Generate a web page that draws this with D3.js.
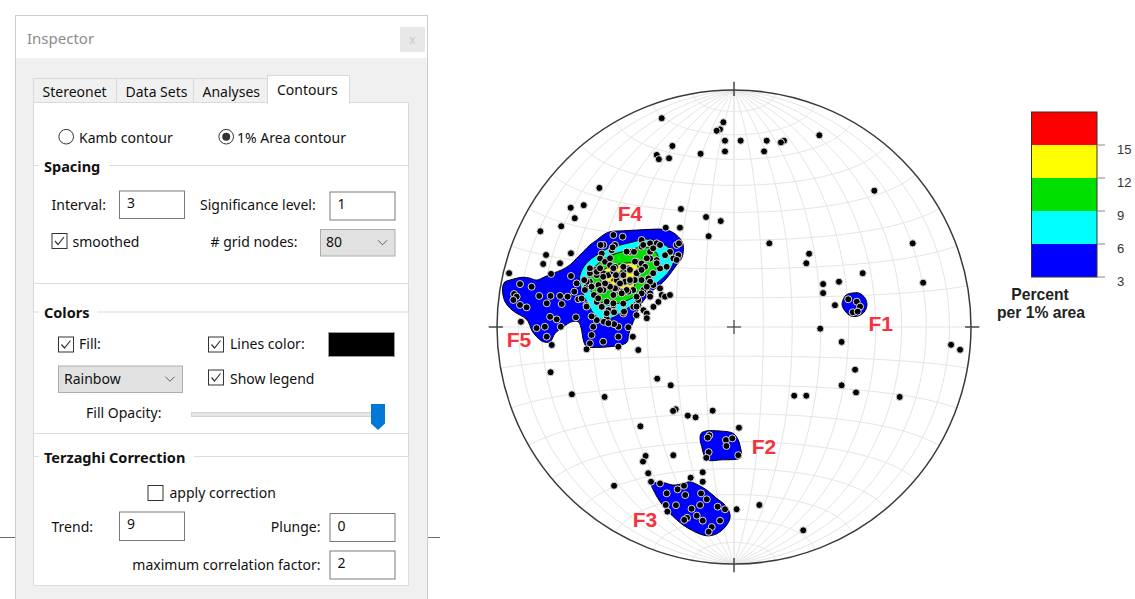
<!DOCTYPE html>
<html><head><meta charset="utf-8">
<script src="https://cdn.jsdelivr.net/npm/d3@7"></script>
<style>
html,body{margin:0;padding:0;background:#fff;}
svg{display:block;}
</style></head><body>
<svg id="root" width="1135" height="599"></svg>
<script>
// ---- contour levels (percent per 1% area) ----
const levels = [3, 6, 9, 12, 15];
const levelColors = ["#0000ff", "#00ffff", "#00e000", "#ffff00", "#ff0000"];
const legendTickLabels = ["3", "6", "9", "12", "15"];

// ---- poles, equal-area projected coordinates (net radius = 100, x east, y north) ----
const polesScattered = [
  [-30.5,88.1],[-4.5,86.4],[-5.9,83.4],[-7.3,82.8],[-3.8,78.6],[2.8,78.6],[13.8,78.6],[21.1,78.6],[19.8,77.9],[36.0,80.9],
  [-26.0,76.4],[-32.6,72.6],[-31.7,70.8],[-27.4,71.2],[-14.1,73.1],[-3.8,74.1],[12.7,74.1],[59.2,57.5],[-56.8,58.7],[-22.4,49.8],
  [-68.9,50.3],[-63.4,51.4],[-67.2,45.9],[-11.8,46.4],[-5.6,44.7],[-81.7,40.4],[-72.9,42.5],[-28.8,41.9],[-22.8,41.9],[-10.7,38.3],
  [14.9,35.3],[75.4,35.3],[31.7,30.9],[30.5,26.9],[54.3,22.7],[79.8,18.7],[37.6,18.1],[37.6,14.3],[44.3,19.1],[42.6,9.2],
  [36.4,-0.7],[45.4,-6.3],[91.6,-7.5],[95.4,-9.6],[51.1,-18.0],[45.4,-24.6],[51.5,-27.6],[25.4,-29.0],[30.5,-29.0],[69.9,-29.5],
  [-77.4,-19.1],[-32.4,-21.8],[-26.7,-24.6],[-68.4,-28.4],[-54.6,-29.5],[-24.6,-34.7],[-25.7,-35.4],[-19.5,-37.4],[-16.2,-38.1],[-9.0,-35.3],
  [-39.5,-41.9],[2.1,-42.5],[-25.6,-54.1],[-37.3,-54.4],[-38.4,-56.8],[-36.2,-61.7],[-35.0,-65.3],[-50.6,-67.0],[-18.3,-63.6],[-13.2,-61.3],
  [-13.2,-65.3],[1.1,-76.9],[10.7,-75.1],[29.2,-85.8]
];
const polesF1 = [[48.2,11.7],[51.8,10.7],[53.2,8.6],[50.1,6.2],[52.2,6.5]];
const polesF2 = [[-10.4,-45.7],[-11.1,-46.7],[-3.4,-47.7],[-3.2,-50.2],[-10.7,-52.8],[-11.7,-55.2],[1.8,-54.1],[-0.7,-47.0]];
const polesF3 = [
  [-31.2,-66.0],[-28.4,-70.2],[-23.8,-68.5],[-21.1,-67.0],[-28.8,-75.1],[-28.1,-77.9],[-24.5,-75.2],[-13.9,-70.2],[-11.5,-72.7],[-14.3,-75.1],
  [-17.9,-76.7],[-15.7,-79.6],[-19.8,-80.5],[-21.0,-81.4],[-6.9,-75.8],[-3.8,-76.9],[-5.9,-81.7],[-9.4,-84.4],[-10.7,-86.4],[-13.2,-81.7],[-20.6,-70.9]
];
const polesF5 = [
  [-68.8,31.1],[-79.3,30.4],[-80.5,26.6],[-73.4,26.9],[-94.9,22.7],
  [-90.3,18.1],[-92.8,13.9],[-91.7,12.8],[-93.1,11.4],[-90.3,9.3],[-87.5,8.3],[-85.4,17.0],[-82.2,13.1],[-77.4,13.1],[-73.4,13.1],
  [-70.2,12.8],[-67.4,14.9],[-68.8,21.5],[-77.6,4.3],[-74.8,3.2],[-83.3,-0.5],[-79.8,0.1],[-79.0,-4.1],[-76.9,-7.6],[-66.7,4.1],
  [-73.1,0.1],[-89.9,2.2],[-77.2,22.4],[-72.7,9.7],[-79.0,10.0],[-66.4,18.4],[-65.7,11.7]
];
const polesF4 = [
  [-50.9,38.8],[-47.0,38.1],[-39.0,36.7],[-35.4,35.3],[-32.6,35.3],[-39.0,33.9],[-55.1,34.6],[-55.8,31.0],[-51.6,32.4],[-50.2,34.6],
  [-43.9,31.7],[-42.2,31.7],[-35.4,31.7],[-31.2,34.6],[-27.0,31.7],[-24.2,34.6],[-23.5,30.3],[-25.6,28.9],[-29.1,30.3],[-56.5,28.9],
  [-54.4,27.5],[-52.3,26.1],[-50.2,25.4],[-46.7,25.4],[-44.6,24.7],[-41.1,27.5],[-39.0,26.8],[-35.4,28.9],[-32.6,28.2],[-40.4,23.3],
  [-37.5,25.4],[-31.2,24.7],[-28.4,25.4],[-58.6,24.0],[-57.9,21.9],[-55.1,22.6],[-53.0,21.9],[-50.9,23.3],[-48.1,21.9],[-46.7,23.3],
  [-49.5,19.8],[-46.0,19.1],[-43.9,19.1],[-41.8,19.8],[-39.0,19.8],[-36.1,20.5],[-34.0,17.7],[-31.2,16.3],[-30.5,13.5],[-35.4,14.2],
  [-38.2,15.6],[-42.5,15.6],[-44.6,14.9],[-47.4,14.9],[-50.9,13.5],[-49.5,16.3],[-53.0,17.7],[-55.1,15.6],[-57.2,17.7],[-60.8,19.1],
  [-62.2,17.0],[-62.9,15.6],[-64.3,12.0],[-62.2,9.2],[-57.9,10.6],[-55.8,8.5],[-53.0,7.1],[-50.9,9.2],[-46.7,9.9],[-46.7,5.7],
  [-42.5,8.5],[-40.4,9.2],[-38.2,7.1],[-34.0,8.5],[-31.9,10.6],[-29.1,12.8],[-27.0,13.5],[-53.7,3.6],[-41.1,5.0],[-36.8,5.7],
  [-57.9,2.9],[-60.8,22.7],[-56.3,34.6],[-62.2,8.6],[-59.1,13.5],[-54.9,2.2],[-60.1,4.5],
  [-59.4,0.1],[-60.1,-3.4],[-60.8,-6.9],[-55.2,-6.2],[-48.8,-4.1],[-44.6,-0.1],[-48.8,0.1],[-42.7,-4.1],[-40.4,-9.7],[-62.2,-9.4],
  [-48.8,-8.3],[-50.6,1.2],
  [-62.2,19.1],[-57.9,23.3],[-60.1,17.0],[-57.3,12.1],[-53.7,10.7],[-50.9,10.0],[-53.7,5.8],[-50.6,6.2],[-53.0,1.6],[-41.1,8.6],
  [-40.4,11.4],[-36.8,3.7],[-46.4,6.5],[-35.4,12.8],[-51.2,33.6],[-52.3,29.0],[-45.3,31.8],[-38.3,34.6],[-34.1,33.2],[-23.2,35.3],
  [-24.2,28.3],[-36.8,29.0],[-32.6,26.9],[-34.1,22.7],[-35.4,19.1],[-36.8,17.0],[-39.0,14.2],[-41.1,12.8],[-45.3,15.6],[-47.4,14.2],
  [-43.9,19.8],[-46.7,21.9],[-48.1,18.4],[-50.2,16.3],[-52.3,17.0],[-54.4,18.4],[-55.2,21.2],[-50.9,24.8],[-46.7,25.4],[-43.9,24.1],
  [-41.1,22.7],[-39.0,24.1],[-41.8,27.6],[-49.8,21.9],[-56.5,24.8],[-56.5,15.6],[-60.8,24.8],[-63.2,19.8]
];

// ---- density contours (same projected coordinates) ----
const contour3 = [
  [[-96.6,19.1],[-94.5,19.8],[-91.7,20.6],[-88.9,21.0],[-86.1,20.6],[-83.3,19.8],[-79.8,21.2],[-76.3,22.7],[-72.7,24.1],[-69.2,26.2],
   [-66.4,29.0],[-63.6,31.8],[-60.8,34.6],[-57.9,36.7],[-55.2,38.8],[-52.3,40.2],[-46.7,40.6],[-41.1,40.9],[-35.4,41.2],[-29.8,41.2],
   [-26.3,40.2],[-23.5,38.1],[-21.6,35.3],[-21.4,31.8],[-22.1,29.0],[-24.2,26.2],[-26.3,23.3],[-28.4,20.6],[-31.2,17.7],[-34.1,15.6],
   [-36.8,12.8],[-39.0,10.0],[-41.1,5.8],[-42.5,2.2],[-43.9,-1.3],[-44.6,-4.1],[-45.0,-6.2],[-47.4,-7.6],[-52.3,-8.3],[-57.9,-8.6],
   [-62.2,-8.3],[-63.6,-5.5],[-64.3,-1.3],[-65.7,2.2],[-68.5,2.2],[-72.0,0.1],[-75.5,-2.7],[-77.6,-6.2],[-80.5,-6.2],[-83.3,-4.1],
   [-85.4,-1.3],[-86.8,2.2],[-88.9,4.3],[-91.7,5.8],[-94.5,7.9],[-96.6,10.7],[-97.6,14.2],[-97.4,17.7]],
  [[46.0,11.4],[47.3,13.5],[49.8,14.3],[52.8,14.3],[55.3,12.2],[56.1,9.3],[54.9,6.3],[52.3,4.6],[49.4,4.6],[46.8,6.8],[45.6,9.3]],
  [[-13.9,-44.9],[-11.8,-43.9],[-5.9,-43.9],[-0.3,-44.9],[1.8,-47.7],[2.8,-51.2],[3.2,-54.0],[2.5,-55.4],[-5.9,-56.1],[-9.4,-56.4],
   [-11.3,-56.1],[-12.7,-54.0],[-13.6,-50.5],[-14.3,-47.7]],
  [[-34.7,-66.3],[-29.8,-65.7],[-25.6,-66.7],[-21.4,-66.0],[-18.6,-65.3],[-15.1,-66.7],[-11.5,-68.8],[-7.3,-72.3],[-3.8,-75.1],[-2.0,-77.9],
   [-1.7,-80.7],[-3.1,-83.6],[-5.9,-86.4],[-8.7,-87.8],[-11.5,-88.1],[-14.3,-87.4],[-17.9,-85.7],[-21.4,-83.6],[-24.9,-80.7],[-28.4,-77.2],
   [-31.2,-73.7],[-33.3,-70.2]]
];
const contour6 = [
  [[-65.0,21.9],[-62.2,27.0],[-57.9,30.4],[-53.7,32.9],[-48.1,34.6],[-42.6,35.9],[-37.6,37.1],[-32.9,36.3],[-29.1,34.6],[-26.2,32.1],
   [-25.3,28.3],[-27.0,24.1],[-30.4,20.3],[-34.6,16.9],[-38.8,13.1],[-43.0,9.3],[-47.3,6.3],[-51.5,3.8],[-55.3,3.0],[-58.7,5.1],
   [-61.2,8.9],[-63.3,13.1],[-64.8,17.3]]
];
const contour9 = [
  [[-60.8,22.7],[-57.9,26.2],[-54.4,29.0],[-49.5,31.1],[-43.9,32.5],[-39.7,33.6],[-35.4,33.2],[-32.6,31.1],[-31.9,27.6],[-33.3,23.3],
   [-35.4,19.8],[-38.3,16.3],[-41.1,13.5],[-44.6,11.4],[-48.8,10.0],[-53.0,9.3],[-56.5,10.7],[-59.4,13.5],[-60.8,17.0]]
];
const contour12 = [
  [[-55.8,23.3],[-53.0,25.2],[-48.1,26.6],[-43.9,27.1],[-41.1,26.6],[-40.4,23.3],[-41.4,19.1],[-43.2,15.6],[-46.7,14.2],[-50.9,14.9],
   [-54.4,17.0],[-56.5,20.6]]
];
const contour15 = [
  [[-51.9,19.8],[-50.2,20.9],[-47.7,21.7],[-47.5,21.3],[-49.8,20.3],[-51.7,19.4]]
];

// ---- family labels and their anchors ----
const familyNames = ["F1", "F2", "F3", "F4", "F5"];
const familyAnchors = [[56.7,-1.6],[7.5,-53.6],[-42.7,-84.3],[-49.1,44.9],[-95.9,-8.3]];

// ================================================================
const svg = d3.select("#root");
svg.append("rect").attr("width",1135).attr("height",599).attr("fill","#fff");

// ---------------- Inspector panel ----------------
const UI_FONT = "'Noto Sans', 'Open Sans', sans-serif";
const ui = svg.append("g").attr("font-family", UI_FONT);
const TXT = "#111";

function label(x, y, s, o = {}) {
  return ui.append("text").attr("x", x).attr("y", y).text(s)
    .attr("font-size", o.size || 14).attr("fill", o.fill || TXT)
    .attr("font-weight", o.bold ? 700 : 400)
    .attr("text-anchor", o.anchor || "start");
}
function box(x, y, w, h, fill, stroke, sw = 1) {
  return ui.append("rect").attr("x", x).attr("y", y).attr("width", w).attr("height", h)
    .attr("fill", fill).attr("stroke", stroke || "none").attr("stroke-width", sw);
}
function checkbox(x, y, checked) {
  box(x + 0.5, y + 0.5, 15, 15, "#fff", "#333");
  if (checked) ui.append("path").attr("d", `M${x+3.5},${y+8} L${x+6.5},${y+11.5} L${x+12.5},${y+4}`)
    .attr("fill", "none").attr("stroke", "#333").attr("stroke-width", 1.2);
}
function radio(cx, cy, on) {
  ui.append("circle").attr("cx", cx).attr("cy", cy).attr("r", 7.3).attr("fill", "#fff").attr("stroke", "#333");
  if (on) ui.append("circle").attr("cx", cx).attr("cy", cy).attr("r", 4).attr("fill", "#333");
}
function input(x, y, w, h, v) {
  box(x + 0.5, y + 0.5, w, h, "#fff", "#7a7a7a");
  label(x + 8, y + 17.5, v);
}
function dropdown(x, y, w, h, v) {
  box(x + 0.5, y + 0.5, w, h, "#e1e1e1", "#adadad");
  label(x + 6, y + 18, v);
  const cx = x + w - 12, cy = y + h / 2;
  ui.append("path").attr("d", `M${cx-4.5},${cy-2} L${cx},${cy+2.5} L${cx+4.5},${cy-2}`)
    .attr("fill", "none").attr("stroke", "#606060").attr("stroke-width", 1);
}
function groupHeader(x1, x2, y, bottom, title, tw) {
  box(x1 + 0.5, y + 0.5, x2 - x1, bottom - y, "#fff", "#dcdcdc");
  box(x1 + 6, y - 4, tw, 10, "#fff");
  label(x1 + 11, y + 6.5, title, { bold: true, size: 14.5 });
}

// background window edge behind the panel
ui.append("line").attr("x1", 0).attr("x2", 440).attr("y1", 537.5).attr("y2", 537.5).attr("stroke", "#6b6b6b").attr("stroke-width", 1.2);

// panel body and title bar
box(15.5, 15.5, 412, 600, "#f0f0f0", "#cdcdcd");
box(16, 16, 411, 42, "#fff");
label(27, 44, "Inspector", { size: 15, fill: "#8c8c8c" });
box(400, 27, 25, 25, "#e8e8e8");
label(412.5, 44, "x", { size: 12, fill: "#c8c8c8", anchor: "middle" });

// tabs
const tabs = [["Stereonet", 33, 116], ["Data Sets", 116, 193], ["Analyses", 193, 267]];
tabs.forEach(([t, a, b]) => {
  box(a + 0.5, 78.5, b - a, 24, "#f0f0f0", "#d9d9d9");
  label(a + 9.5, 96.5, t);
});
// tab page
box(33.5, 102.5, 375, 483, "#fff", "#d9d9d9");
box(267.5, 75.5, 82, 28, "#fff", "#d9d9d9");
box(268, 100, 81, 5, "#fff");
label(277, 94.5, "Contours");

radio(66.2, 136.7, false);
label(79, 142.5, "Kamb contour");
radio(226.2, 136.7, true);
label(237, 142.5, "1% Area contour");

// Spacing
groupHeader(33, 408, 165, 283, "Spacing", 70);
label(51.5, 210, "Interval:");
input(119, 190.5, 65, 27.5, "3");
label(200, 210, "Significance level:");
input(329.5, 191.5, 65, 28, "1");
checkbox(51.5, 233, true);
label(72.5, 246.5, "smoothed");
label(210.5, 246.5, "# grid nodes:");
dropdown(320, 229, 74.5, 26.5, "80");

// Colors
groupHeader(33, 408, 311.5, 433, "Colors", 58);
checkbox(58, 336.5, true);
label(79, 349, "Fill:");
checkbox(208, 336.5, true);
label(230, 349, "Lines color:");
box(328.5, 332.5, 66, 24, "#000", "#9a9a9a");
dropdown(58, 365.5, 124, 26.5, "Rainbow");
checkbox(208, 369.5, true);
label(230, 383.5, "Show legend");
label(86, 418, "Fill Opacity:");
box(191.5, 412.5, 192, 4, "#e6e6e6", "#d4d4d4");
ui.append("path").attr("d", "M371,404 H385 V423.5 L378,430 L371,423.5 Z").attr("fill", "#0078d7");

// Terzaghi Correction
groupHeader(33, 408, 456, 585, "Terzaghi Correction", 155);
checkbox(147.5, 485, false);
label(169.5, 498, "apply correction");
label(51.5, 531.5, "Trend:");
input(119, 511.5, 65, 28.5, "9");
label(320.5, 531.5, "Plunge:", { anchor: "end" });
input(329.5, 513, 65, 28, "0");
label(320.5, 569.5, "maximum correlation factor:", { anchor: "end" });
input(329.5, 550.5, 65, 28, "2");

// ---------------- Stereonet (equal-area, lower hemisphere) ----------------
const cx = 734, cy = 327, R = 237;
const x = d3.scaleLinear().domain([-100, 100]).range([cx - R, cx + R]);
const y = d3.scaleLinear().domain([-100, 100]).range([cy + R, cy - R]);
const net = svg.append("g");

// Lambert azimuthal equal-area projection of a lower-hemisphere unit vector
const project = ([vx, vy, vz]) => { const k = 100 / Math.sqrt(1 + vz); return [vx * k, vy * k]; };
const toRad = Math.PI / 180;
const path = d3.line().x(d => x(d[0])).y(d => y(d[1]));
const grid = [];
// great circles through N and S
for (let phi = 10; phi <= 90; phi += 10) {
  [-1, 1].forEach(s => {
    const pts = d3.range(-90, 90.01, 1).map(t => project([
      s * Math.cos(t * toRad) * Math.cos(phi * toRad), Math.sin(t * toRad), Math.cos(t * toRad) * Math.sin(phi * toRad)]));
    grid.push(pts);
  });
}
// small circles about the N-S axis
for (let a = 10; a <= 170; a += 10) {
  const pts = d3.range(0, 180.01, 1).map(t => project([
    Math.sin(a * toRad) * Math.cos(t * toRad), Math.cos(a * toRad), Math.sin(a * toRad) * Math.sin(t * toRad)]));
  grid.push(pts);
}
net.append("g").selectAll("path").data(grid).join("path")
  .attr("d", path).attr("fill", "none").attr("stroke", "#e4e4e4").attr("stroke-width", 1);

// filled contours
const area = d3.line().x(d => x(d[0])).y(d => y(d[1])).curve(d3.curveCatmullRomClosed.alpha(0.5));
const contourSets = [contour3, contour6, contour9, contour12, contour15];
contourSets.forEach((set, i) => {
  net.append("g").selectAll("path").data(set).join("path")
    .attr("d", area).attr("fill", levelColors[i])
    .attr("stroke", "#000").attr("stroke-width", i === 4 ? 0.6 : 1);
});

// primitive circle and axis ticks
net.append("circle").attr("cx", x(0)).attr("cy", y(0)).attr("r", x(100) - x(0))
  .attr("fill", "none").attr("stroke", "#3a3a3a").attr("stroke-width", 1.5);
const tickDirs = [[1, 0], [-1, 0], [0, 1], [0, -1]];
net.append("g").selectAll("line").data(tickDirs).join("line")
  .attr("x1", d => x(d[0] * 97.5)).attr("y1", d => y(d[1] * 97.5))
  .attr("x2", d => x(d[0] * 103.5)).attr("y2", d => y(d[1] * 103.5))
  .attr("stroke", "#444").attr("stroke-width", 1.5);
net.append("g").selectAll("line").data(tickDirs).join("line")
  .attr("x1", x(0)).attr("y1", y(0))
  .attr("x2", d => x(d[0] * 3)).attr("y2", d => y(d[1] * 3))
  .attr("stroke", "#444").attr("stroke-width", 1.2);

// poles
const allPoles = [].concat(polesScattered, polesF1, polesF2, polesF3, polesF5, polesF4);
net.append("g").selectAll("circle").data(allPoles).join("circle")
  .attr("cx", d => x(d[0])).attr("cy", d => y(d[1])).attr("r", 3.5)
  .attr("fill", "#000").attr("stroke", "#d8d8d8").attr("stroke-width", 1);

// family labels
net.append("g").selectAll("text").data(familyNames).join("text")
  .attr("x", (d, i) => x(familyAnchors[i][0])).attr("y", (d, i) => y(familyAnchors[i][1]))
  .text(d => d)
  .attr("font-family", "'Liberation Sans', Arial, sans-serif").attr("font-weight", 700)
  .attr("font-size", 21).attr("fill", "#f5333f");

// ---------------- legend ----------------
const lg = svg.append("g").attr("font-family", "'Liberation Sans', Arial, sans-serif");
const ly = d3.scaleLinear().domain([3, 18]).range([277, 112]);
const lx0 = 1031.5, lx1 = 1097;
lg.selectAll("rect.band").data(levels).join("rect").attr("class", "band")
  .attr("x", lx0).attr("width", lx1 - lx0)
  .attr("y", d => ly(d + 3)).attr("height", d => ly(d) - ly(d + 3))
  .attr("fill", (d, i) => levelColors[i]);
lg.append("rect").attr("x", lx0).attr("y", ly(18)).attr("width", lx1 - lx0).attr("height", ly(3) - ly(18))
  .attr("fill", "none").attr("stroke", "#333").attr("stroke-width", 1);
const ticks = lg.selectAll("g.tick").data(levels).join("g").attr("class", "tick")
  .attr("transform", d => `translate(0,${ly(d)})`);
ticks.append("line").attr("x1", lx1).attr("x2", lx1 + 8).attr("stroke", "#888").attr("stroke-width", 1);
ticks.append("text").attr("x", 1117).attr("y", 8.5).text((d, i) => legendTickLabels[i])
  .attr("font-size", 13).attr("fill", "#333");
lg.append("text").attr("x", 1040).attr("y", 300).attr("text-anchor", "middle")
  .attr("font-size", 15.7).attr("font-weight", 700).attr("fill", "#222").text("Percent");
lg.append("text").attr("x", 1041).attr("y", 317.5).attr("text-anchor", "middle")
  .attr("font-size", 15.7).attr("font-weight", 700).attr("fill", "#222").text("per 1% area");
</script>
</body></html>
